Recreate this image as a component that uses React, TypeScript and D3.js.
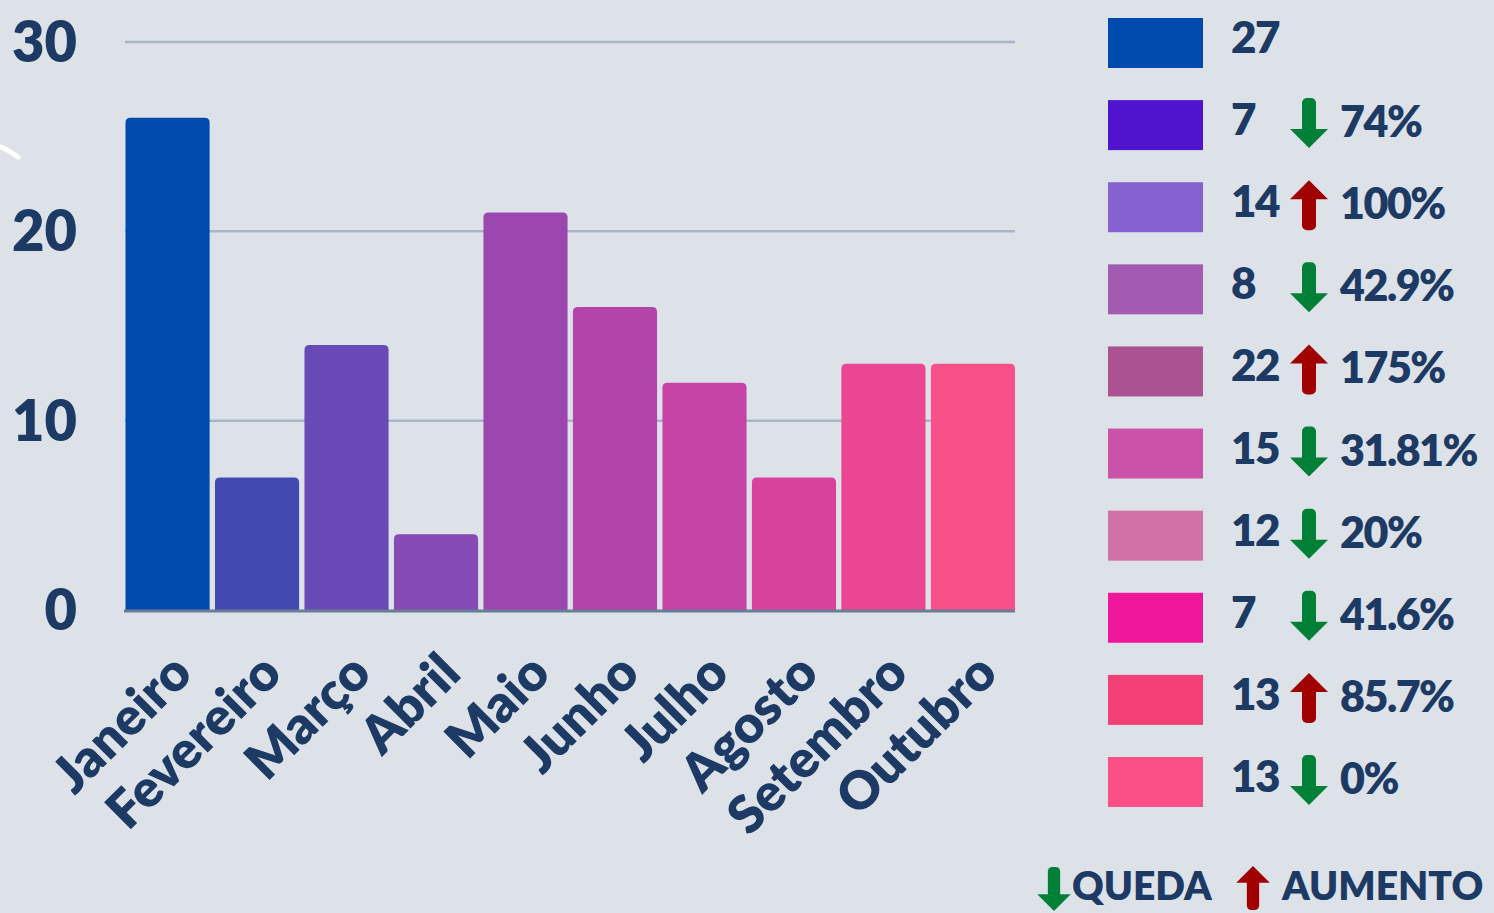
import * as d3 from "d3"

const months = ["Janeiro", "Fevereiro", "Março", "Abril", "Maio", "Junho", "Julho", "Agosto", "Setembro", "Outubro"]
const monthValues = [26, 7, 14, 4, 21, 16, 12, 7, 13, 13]
const barColors = ["#004aad", "#434aaf", "#6849b5", "#864ab5", "#9c46b0", "#b244aa", "#c644a5", "#d7429b", "#ec4592", "#f9508a"]
const yTicks = [0, 10, 20, 30]

const legendValues = ["27", "7", "14", "8", "22", "15", "12", "7", "13", "13"]
const legendChanges = ["", "74%", "100%", "42.9%", "175%", "31.81%", "20%", "41.6%", "85.7%", "0%"]
const legendTrend = ["", "down", "up", "down", "up", "down", "down", "down", "up", "down"]
const legendColors = ["#004aad", "#5014cf", "#8562cf", "#a35bb2", "#ab5392", "#cb52a8", "#d172a6", "#f0169b", "#f43e76", "#fa5087"]

const W = 1494
const H = 913
const bg = "#dde2e9"
const ink = "#1c3a63"
const green = "#008037"
const red = "#a00000"
const font = "Lato, 'Open Sans', sans-serif"

// arrow pointing down, top at y=0, centred on x=0
function Arrow({ x, y, dir, s = 1 }: { x: number; y: number; dir: string; s?: number }) {
  const flip = dir === "up" ? `translate(0,50) scale(1,-1)` : ""
  return (
    <g transform={`translate(${x},${y}) scale(${s}) ${flip}`}>
      <rect x={-7} y={0} width={14} height={36} rx={5} fill={dir === "up" ? red : green} />
      <path d="M-19,31 L19,31 L0,50 Z" fill={dir === "up" ? red : green} />
    </g>
  )
}

function roundTop(x: number, y: number, w: number, h: number, r: number) {
  const p = d3.path()
  p.moveTo(x, y + h)
  p.lineTo(x, y + r)
  p.quadraticCurveTo(x, y, x + r, y)
  p.lineTo(x + w - r, y)
  p.quadraticCurveTo(x + w, y, x + w, y + r)
  p.lineTo(x + w, y + h)
  p.closePath()
  return p.toString()
}

export default function App() {
  const x = d3.scaleBand<string>().domain(months).range([125.5, 1015]).paddingInner(0.06).paddingOuter(0)
  const y = d3.scaleLinear().domain([0, 30]).range([610, 42])
  const rowY = d3.scalePoint<number>().domain(d3.range(legendValues.length)).range([18, 757])

  return (
    <div style={{ position: "absolute", left: 0, top: 0, width: W, height: H }}>
      <svg width={W} height={H} style={{ display: "block" }}>
        <rect width={W} height={H} fill={bg} />
        <path d="M1,147 Q8,150 18,157" stroke="#ffffff" strokeWidth={5} strokeLinecap="round" fill="none" />

        {yTicks.filter((t) => t > 0).map((t) => (
          <line key={t} x1={125} x2={1015} y1={y(t)} y2={y(t)} stroke="#a9b5c5" strokeWidth={2.5} />
        ))}
        {yTicks.map((t) => (
          <text key={t} x={77} y={y(t)} dy="0.36em" textAnchor="end" fontFamily={font} fontWeight={800} fontSize={56} fill={ink}>
            {t}
          </text>
        ))}

        {months.map((m, i) => (
          <path
            key={m}
            d={roundTop(x(m)!, y(monthValues[i]), x.bandwidth(), y(0) - y(monthValues[i]), 5)}
            fill={barColors[i]}
          />
        ))}
        <line x1={124} x2={1015} y1={611} y2={611} stroke="#6a7d96" strokeWidth={3} />

        {months.map((m) => (
          <text
            key={m}
            transform={`translate(${x(m)! + x.bandwidth() / 2 + 27},${676}) rotate(-45)`}
            textAnchor="end"
            fontFamily={font}
            fontWeight={800}
            fontSize={52}
            fill={ink}
          >
            {m}
          </text>
        ))}

        {legendValues.map((v, i) => {
          const top = rowY(i)!
          return (
            <g key={i}>
              <rect x={1108} y={top} width={95} height={50} fill={legendColors[i]} />
              <text x={1231} y={top + 35} fontFamily={font} fontWeight={800} fontSize={44} letterSpacing={-1.5} fill={ink}>
                {v}
              </text>
              {legendTrend[i] && <Arrow x={1309} y={top - 2} dir={legendTrend[i]} />}
              {legendChanges[i] && (
                <text x={1340} y={top + 37} fontFamily={font} fontWeight={800} fontSize={43} letterSpacing={-1.5} fill={ink}>
                  {legendChanges[i]}
                </text>
              )}
            </g>
          )
        })}

        <Arrow x={1054} y={867} dir="down" s={0.88} />
        <text x={1072} y={900} fontFamily={font} fontWeight={800} fontSize={39} fill={ink}>
          QUEDA
        </text>
        <Arrow x={1253} y={866} dir="up" s={0.88} />
        <text x={1282} y={900} fontFamily={font} fontWeight={800} fontSize={39} fill={ink}>
          AUMENTO
        </text>
      </svg>
    </div>
  )
}
